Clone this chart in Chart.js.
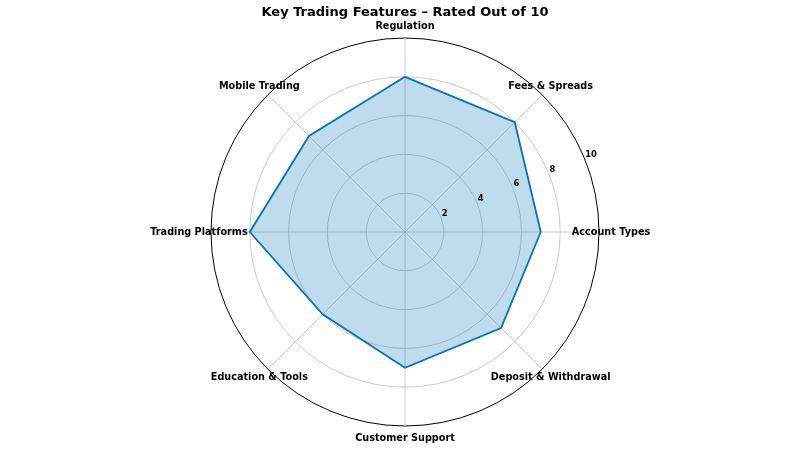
<!DOCTYPE html>
<html>
<head>
<meta charset="utf-8">
<script src="https://cdn.jsdelivr.net/npm/chart.js@4.4.1/dist/chart.umd.min.js"></script>
<style>
  html, body { margin: 0; padding: 0; background: #fff; }
  #wrap { width: 800px; height: 450px; }
</style>
</head>
<body>
<div id="wrap"><canvas id="radar"></canvas></div>
<script>
// categories go clockwise from the top
const features = ['Regulation', 'Fees & Spreads', 'Account Types', 'Deposit & Withdrawal',
                  'Customer Support', 'Education & Tools', 'Trading Platforms', 'Mobile Trading'];
const ratings = [8, 8, 7, 7, 7, 6, 8, 7];
const tickValues = [2, 4, 6, 8, 10];

const FONT = "'DejaVu Sans', sans-serif";

// labels round the outside, centred on a ring just past the rim
const ringLabels = {
    id: 'ringLabels',
    afterDraw(chart) {
        const r = chart.scales.r;
        const ctx = chart.ctx;
        ctx.save();
        ctx.fillStyle = '#000';
        ctx.font = 'bold 9.7px ' + FONT;
        ctx.textAlign = 'center';
        ctx.textBaseline = 'middle';
        features.forEach((name, i) => {
            const p = r.getPointPosition(i, r.drawingArea + 12);
            ctx.fillText(name, p.x, p.y);
        });
        // radial tick labels along 22.5 deg above the right axis
        ctx.font = 'bold 8.4px ' + FONT;
        ctx.textAlign = 'left';
        ctx.textBaseline = 'bottom';
        const a = Math.PI / 8;
        tickValues.forEach(v => {
            const d = r.getDistanceFromCenterForValue(v);
            ctx.fillText(String(v), r.xCenter + d * Math.cos(a) + 1, r.yCenter - d * Math.sin(a) + 1);
        });
        ctx.restore();
    }
};

new Chart(document.getElementById('radar'), {
    type: 'radar',
    data: {
        labels: features,
        datasets: [{
            data: ratings,
            borderColor: '#0a72b2',
            backgroundColor: 'rgba(0, 114, 178, 0.25)',
            borderWidth: 1.8,
            fill: true,
            pointRadius: 0,
            pointHoverRadius: 0
        }]
    },
    options: {
        responsive: true,
        maintainAspectRatio: false,
        animation: false,
        layout: { padding: { top: 0, bottom: 23, left: 10, right: 0 } },
        plugins: {
            legend: { display: false },
            tooltip: { enabled: false },
            title: {
                display: true,
                text: 'Key Trading Features – Rated Out of 10',
                color: '#000',
                font: { family: FONT, size: 13, weight: 'bold', lineHeight: 1.2 },
                padding: { top: 5, bottom: 18 }
            }
        },
        scales: {
            r: {
                min: 0,
                max: 10,
                ticks: { stepSize: 2, display: false },
                pointLabels: { display: false },
                grid: {
                    circular: true,
                    color: ctx => ctx.tick && ctx.tick.value === 10 ? '#000' : '#bdbdbd',
                    lineWidth: ctx => ctx.tick && ctx.tick.value === 10 ? 1 : 0.8
                },
                angleLines: { color: '#bdbdbd', lineWidth: 0.8 }
            }
        }
    },
    plugins: [ringLabels]
});
</script>
</body>
</html>
